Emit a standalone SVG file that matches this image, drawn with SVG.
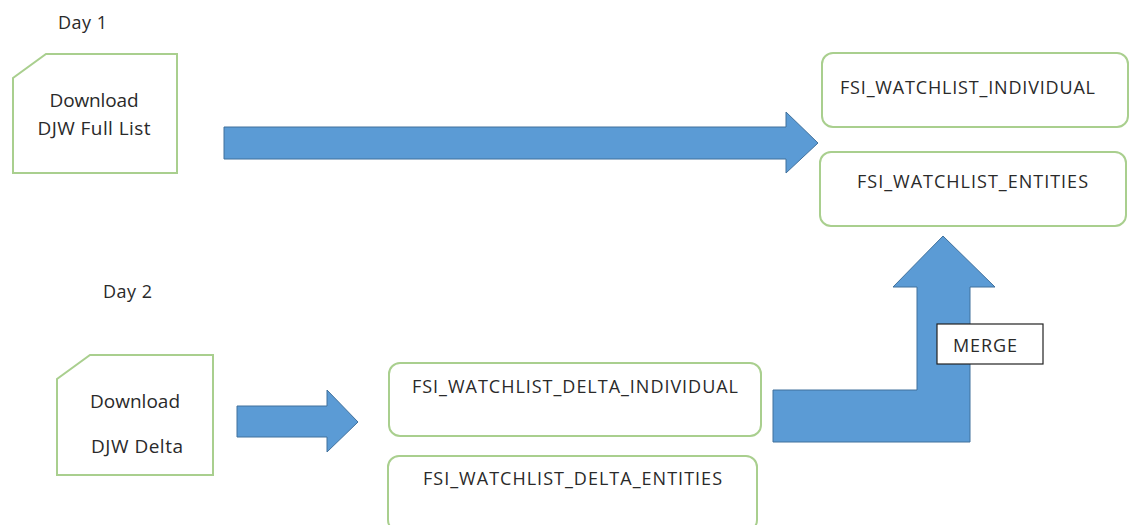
<svg xmlns="http://www.w3.org/2000/svg" width="1130" height="525" viewBox="0 0 1130 525">
  <style>
    text { font-family: "Open Sans", "Liberation Sans", Arial, sans-serif; fill: #2a2a2a; }
    .lbl { font-size: 18px; }
    .dl { font-size: 19px; text-anchor: middle; }
    .box { fill: #ffffff; stroke: #a9cf8e; stroke-width: 2; }
    .arrow { fill: #5b9bd5; stroke: #41719c; stroke-width: 1; }
    .merge { fill: #ffffff; stroke: #222222; stroke-width: 1.2; }
  </style>
  <rect width="1130" height="525" fill="#ffffff"/>

  <text class="lbl" x="58" y="29" textLength="49">Day 1</text>
  <text class="lbl" x="103" y="298" textLength="49">Day 2</text>

  <g id="download-full">
    <path class="box" d="M46,54 L177,54 L177,173 L13,173 L13,78 Z"/>
    <text class="dl" x="94" y="107" textLength="89">Download</text>
    <text class="dl" x="94" y="135" textLength="113">DJW Full List</text>
  </g>

  <g id="download-delta">
    <path class="box" d="M90,355 L213,355 L213,475 L57,475 L57,379 Z"/>
    <text class="dl" x="135" y="408" textLength="90">Download</text>
    <text class="dl" x="137" y="453" textLength="92">DJW Delta</text>
  </g>

  <g id="watchlist-individual">
    <rect class="box" x="822" y="53" width="306" height="74" rx="11"/>
    <text class="lbl" x="840" y="94" textLength="255">FSI_WATCHLIST_INDIVIDUAL</text>
  </g>

  <g id="watchlist-entities">
    <rect class="box" x="820" y="152" width="306" height="74" rx="11"/>
    <text class="lbl" x="857" y="188" textLength="231">FSI_WATCHLIST_ENTITIES</text>
  </g>

  <g id="delta-individual">
    <rect class="box" x="389" y="363" width="372" height="73" rx="11"/>
    <text class="lbl" x="412" y="393" textLength="326">FSI_WATCHLIST_DELTA_INDIVIDUAL</text>
  </g>

  <g id="delta-entities">
    <rect class="box" x="388" y="456" width="369" height="75" rx="11"/>
    <text class="lbl" x="423" y="485" textLength="299">FSI_WATCHLIST_DELTA_ENTITIES</text>
  </g>

  <g id="connectors">
    <path class="arrow" d="M224,127 L786,127 L786,112 L818,143 L786,173 L786,159 L224,159 Z"/>
    <path class="arrow" d="M237,406 L327,406 L327,390 L358,422 L327,452 L327,437 L237,437 Z"/>
    <path class="arrow" d="M773,390 L917,390 L917,287 L893,287 L943,236 L995,287 L970,287 L970,442 L773,442 Z"/>
  </g>

  <g id="merge-label">
    <rect class="merge" x="937" y="324" width="106" height="40"/>
    <text class="lbl" x="953" y="352" textLength="64">MERGE</text>
  </g>
</svg>
